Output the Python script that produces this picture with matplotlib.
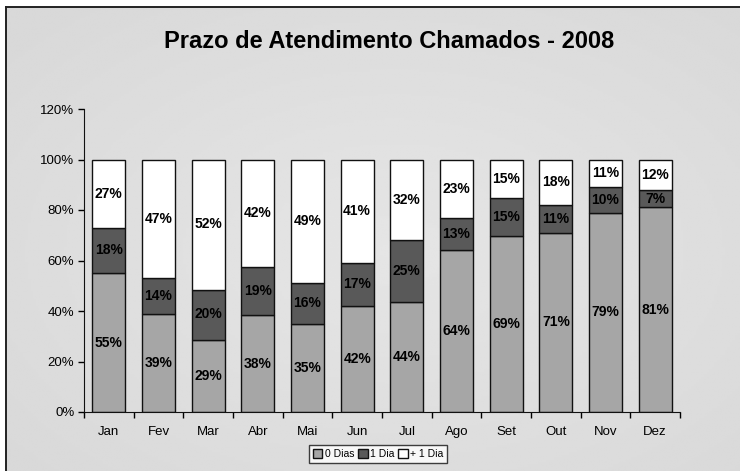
import numpy as np
import matplotlib.pyplot as plt

months = ['Jan', 'Fev', 'Mar', 'Abr', 'Mai', 'Jun', 'Jul', 'Ago', 'Set', 'Out', 'Nov', 'Dez']
dias0 = [55, 39, 29, 38, 35, 42, 44, 64, 69, 71, 79, 81]
dia1 = [18, 14, 20, 19, 16, 17, 25, 13, 15, 11, 10, 7]
mais1 = [27, 47, 52, 42, 49, 41, 32, 23, 15, 18, 11, 12]
series_names = ['0 Dias', '1 Dia', '+ 1 Dia']

plt.rcParams['font.family'] = ['Liberation Sans', 'DejaVu Sans']

fig = plt.figure(figsize=(7.4, 4.71), dpi=100)
fig.patch.set_facecolor('white')

# background frame with soft radial gradient
bg = fig.add_axes([6 / 740, -0.05, 1.05, 1 - 7 / 471 + 0.05], zorder=-10)
yy, xx = np.mgrid[-1:1:200j, -1:1:300j]
r = np.clip(np.sqrt(xx ** 2 + yy ** 2) / 1.3, 0, 1)
bg.imshow(0.90 - 0.05 * r, cmap='gray', vmin=0, vmax=1, aspect='auto',
          extent=[0, 1, 0, 1], interpolation='bilinear')
bg.set_xlim(0, 1)
bg.set_ylim(0, 1)
for s in bg.spines.values():
    s.set_linewidth(1.4)
    s.set_color('#222222')
bg.set_xticks([])
bg.set_yticks([])

ax = fig.add_axes([84 / 740, 1 - 412 / 471, 596 / 740, 303 / 471])
ax.patch.set_alpha(0)

d0 = np.array(dias0, float)
d1 = np.array(dia1, float)
d2 = np.array(mais1, float)
tot = d0 + d1 + d2
p0, p1, p2 = d0 / tot * 100, d1 / tot * 100, d2 / tot * 100

x = np.arange(len(months))
w = 0.66
kw = dict(width=w, edgecolor='#111111', linewidth=1.0)
ax.bar(x, p0, color='#a6a6a6', label=series_names[0], **kw)
ax.bar(x, p1, bottom=p0, color='#595959', label=series_names[1], **kw)
ax.bar(x, p2, bottom=p0 + p1, color='white', label=series_names[2], **kw)

for i in x:
    ax.text(i, p0[i] / 2, f'{dias0[i]}%', ha='center', va='center', fontsize=10, fontweight='bold')
    ax.text(i, p0[i] + p1[i] / 2, f'{dia1[i]}%', ha='center', va='center', fontsize=10, fontweight='bold')
    ax.text(i, p0[i] + p1[i] + p2[i] / 2, f'{mais1[i]}%', ha='center', va='center', fontsize=10, fontweight='bold')

ax.set_xlim(-0.5, len(months) - 0.5)
ax.set_ylim(0, 120)
ax.set_yticks(np.arange(0, 121, 20))
ax.set_yticklabels([f'{v}%' for v in range(0, 121, 20)], fontsize=9.5)
ax.set_xticks(x)
ax.set_xticklabels(months, fontsize=9.5)
ax.tick_params(axis='x', which='major', length=0, pad=10)
ax.set_xticks(np.arange(-0.5, len(months)), minor=True)
ax.tick_params(axis='x', which='minor', length=4, direction='out', width=1)
ax.tick_params(axis='y', length=4, direction='out', width=1, pad=3)
ax.spines['top'].set_visible(False)
ax.spines['right'].set_visible(False)
ax.spines['left'].set_color('#111111')
ax.spines['bottom'].set_color('#111111')

fig.text(389 / 740, 1 - 41 / 471, 'Prazo de Atendimento Chamados - 2008', ha='center', va='center',
         fontsize=17, fontweight='bold')

leg = fig.legend(loc='center', bbox_to_anchor=(378 / 740, 1 - 454 / 471), ncol=3, fontsize=7.5,
                 frameon=True, fancybox=False, edgecolor='#111111', handlelength=0.9,
                 handleheight=0.9, handletextpad=0.2, columnspacing=0.4, borderpad=0.35,
                 borderaxespad=0)
leg.get_frame().set_facecolor('white')
leg.get_frame().set_linewidth(1.0)

fig.savefig('out.png', dpi=100, facecolor=fig.get_facecolor())
